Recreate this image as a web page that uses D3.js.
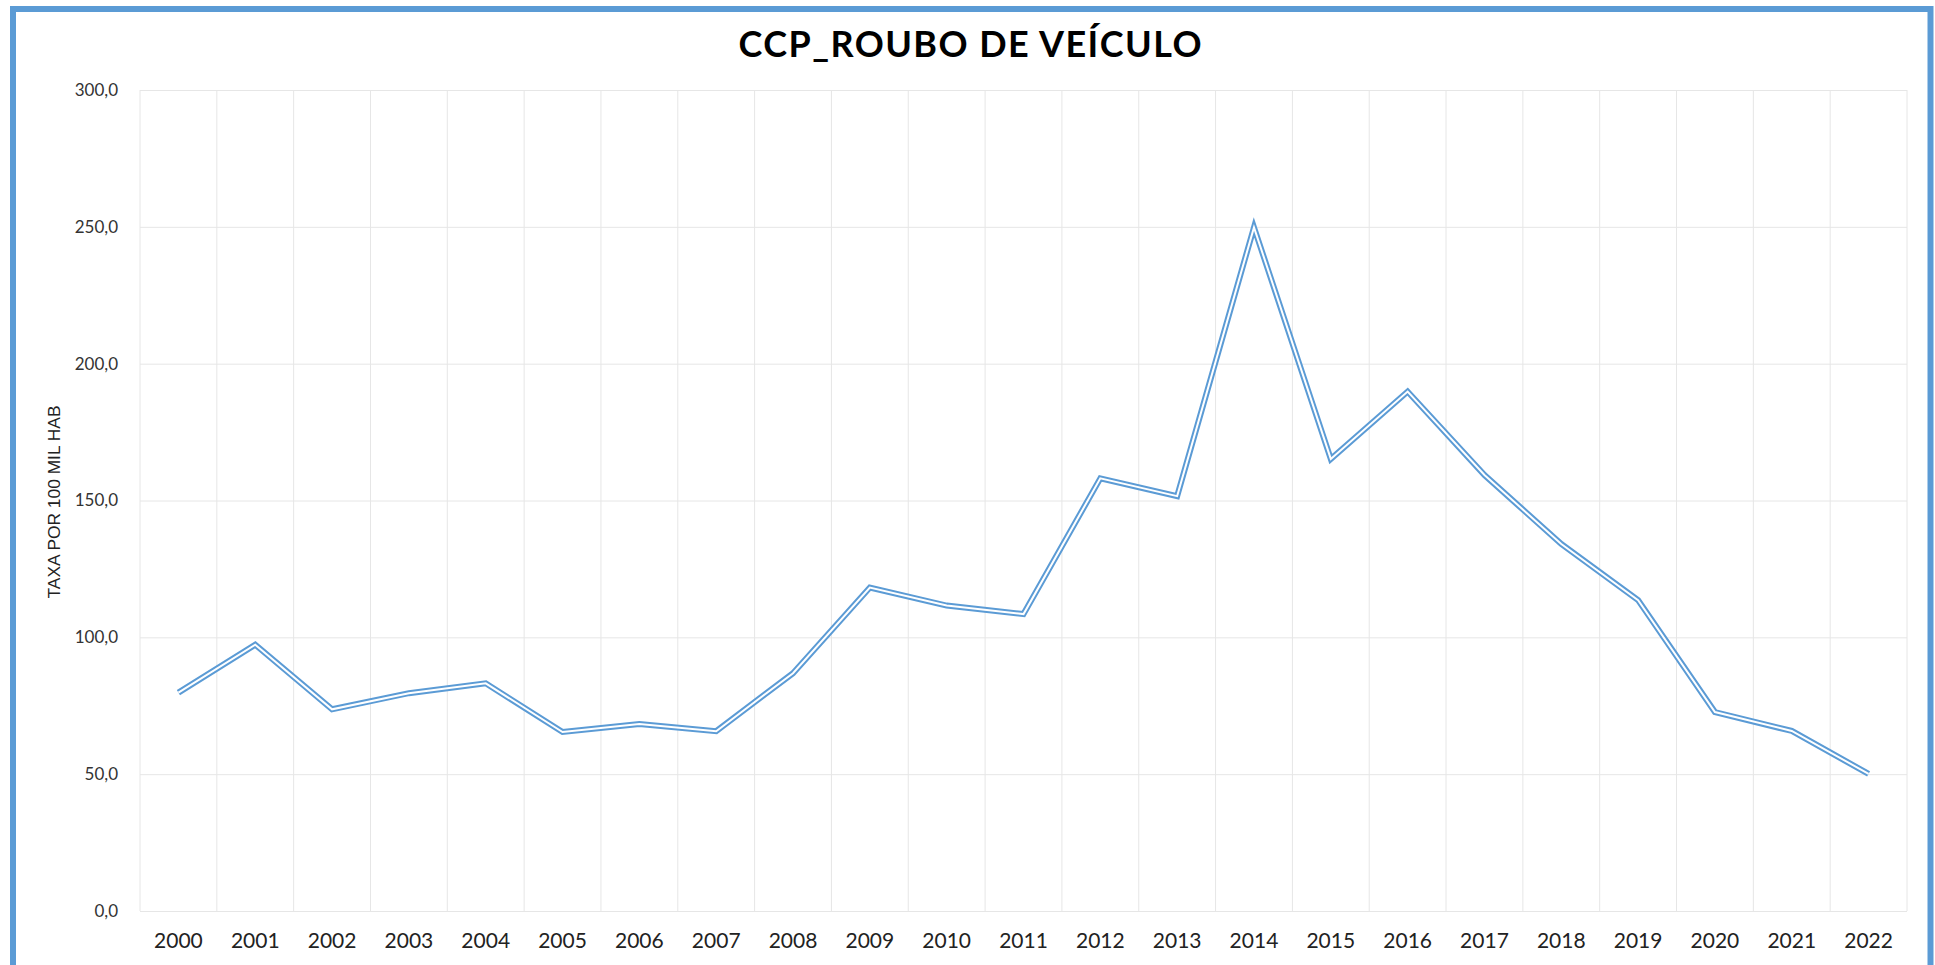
<!DOCTYPE html>
<meta charset="utf-8">
<style>
body { margin: 0; background: #fff; }
svg { display: block; }
.grid line { stroke: #e6e6e6; stroke-width: 1; }
.yaxis text { font: 17px Lato, sans-serif; fill: #333; }
.xaxis text { font: 21px Lato, sans-serif; fill: #222; }
</style>
<body>
<script src="https://cdn.jsdelivr.net/npm/d3@7"></script>
<script>

// data
var years = ["2000","2001","2002","2003","2004","2005","2006","2007","2008","2009","2010","2011",
             "2012","2013","2014","2015","2016","2017","2018","2019","2020","2021","2022"];
var rates = [79.8, 97.3, 73.7, 79.6, 83.2, 65.4, 68.3, 65.7, 86.9, 118.2, 111.6, 108.5,
             158.1, 151.6, 249.8, 165.2, 189.8, 159.3, 134.1, 113.6, 72.7, 65.8, 50.1];
var yTicks = [0, 50, 100, 150, 200, 250, 300];

var chartTitle = "CCP_ROUBO DE VEÍCULO";
var yTitle = "TAXA POR 100 MIL HAB";

var width = 1935, height = 965;
var plot = {left: 140, right: 1907, top: 90, bottom: 911};
var blue = "#5b9bd5";

var svg = d3.select("body").append("svg")
    .attr("width", width)
    .attr("height", height);

// outer frame
svg.append("rect")
    .attr("x", 13).attr("y", 9)
    .attr("width", 1917.5).attr("height", 960)
    .attr("fill", "#fff")
    .attr("stroke", blue)
    .attr("stroke-width", 6);

var x = d3.scaleBand()
    .domain(years)
    .range([plot.left, plot.right])
    .padding(0);

var y = d3.scaleLinear()
    .domain([0, 300])
    .range([plot.bottom, plot.top]);

// vertical gridlines sit on the category boundaries
svg.append("g").attr("class", "grid")
  .selectAll("line")
    .data(d3.range(years.length + 1))
  .enter().append("line")
    .attr("x1", function(i) { return plot.left + i * x.step(); })
    .attr("x2", function(i) { return plot.left + i * x.step(); })
    .attr("y1", plot.top)
    .attr("y2", plot.bottom);

// y axis with horizontal gridlines
var fmt = function(d) { return d3.format(".1f")(d).replace(".", ","); };
var yAxis = svg.append("g")
    .attr("class", "yaxis grid")
    .attr("transform", "translate(" + plot.left + ",0)")
    .call(d3.axisLeft(y).tickValues(yTicks).tickFormat(fmt)
          .tickSize(-(plot.right - plot.left)).tickPadding(22));
yAxis.select(".domain").remove();
yAxis.selectAll(".tick line").attr("stroke", "#e6e6e6");

// x axis labels
var xAxis = svg.append("g")
    .attr("class", "xaxis")
    .attr("transform", "translate(0," + plot.bottom + ")")
    .call(d3.axisBottom(x).tickSize(0));
xAxis.select(".domain").remove();
xAxis.selectAll("text").attr("y", 37).attr("dy", null);

// the series, drawn as an Excel style double line
var line = d3.line()
    .x(function(d, i) { return x(years[i]) + x.bandwidth() / 2; })
    .y(function(d) { return y(d); });

svg.append("path")
    .datum(rates)
    .attr("d", line)
    .attr("fill", "none")
    .attr("stroke", blue)
    .attr("stroke-width", 6)
    .attr("stroke-linejoin", "miter");

svg.append("path")
    .datum(rates)
    .attr("d", line)
    .attr("fill", "none")
    .attr("stroke", "#fff")
    .attr("stroke-width", 2)
    .attr("stroke-linejoin", "miter");

// title, spaced out to the width seen in the original
var title = svg.append("text")
    .attr("x", 970)
    .attr("y", 57)
    .attr("text-anchor", "middle")
    .style("font", "bold 36px Lato, sans-serif")
    .style("fill", "#000")
    .text(chartTitle);
var tw = title.node().getComputedTextLength();
var spacing = Math.max(0, (463 - tw) / (chartTitle.length - 1));
title.style("letter-spacing", spacing + "px")
    .attr("x", 970 + spacing / 2);

// y axis title, sized to the length seen in the original
var ytl = svg.append("text")
    .attr("transform", "translate(54,502) rotate(-90)")
    .attr("text-anchor", "middle")
    .attr("dominant-baseline", "central")
    .style("font-family", "'Liberation Sans', Arial, sans-serif")
    .style("font-size", "17px")
    .style("fill", "#222")
    .text(yTitle);
var yw = ytl.node().getComputedTextLength();
ytl.style("font-size", (17 * 193 / yw) + "px");

</script>
</body>
